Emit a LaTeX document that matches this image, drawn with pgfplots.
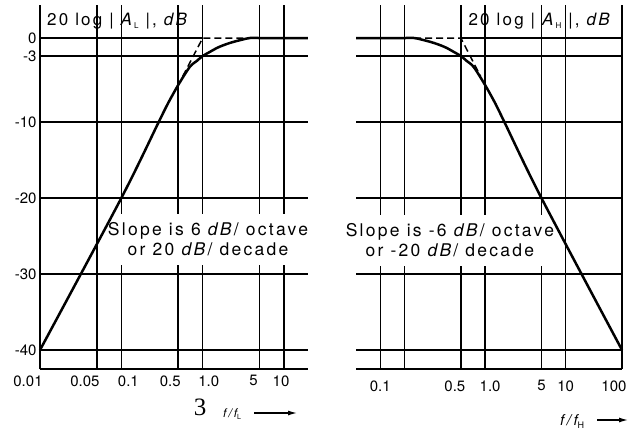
\documentclass[border=0pt]{standalone}
\usepackage{pgfplots}
\pgfplotsset{compat=1.18}
\usetikzlibrary{arrows.meta}
\usepackage{fontspec}
\setmainfont{TeX Gyre Heros}
\newfontfamily\spaced[LetterSpace=13]{TeX Gyre Heros}
\newfontfamily\serifnum{Liberation Serif}

\tikzset{slopebox/.style={fill=white, align=center, inner xsep=3pt, inner ysep=9pt,
    font=\spaced\fontsize{17.5}{19.5}\selectfont}}
% tick label moved sideways by #1 (the printed labels are not quite centred)
\newcommand{\shifted}[2]{\makebox[0pt][c]{\kern#1\kern#1#2}}

\begin{document}
\begin{tikzpicture}
\path[use as bounding box] (0,0) rectangle (632pt,-432pt);

% High-pass response, A_L
% (the printed dB scale is stretched unevenly: 0 to -3, -3 to -10 and -10 to -40 dB
%  each have their own spacing)
\begin{axis}[at={(40pt,-369pt)}, anchor=south west,
  scale only axis, width=268pt, height=364pt,
  y coord trafo/.code={\pgfmathparse{(#1)>=-3 ? 6*(#1) : ((#1)>=-10 ? -18+((#1)+3)*9.428571 : -84+((#1)+10)*7.6)}},
  y coord inv trafo/.code={\pgfmathparse{(#1)>=-18 ? (#1)/6 : ((#1)>=-84 ? -3+((#1)+18)/9.428571 : -10+((#1)+84)/7.6)}},
  xmode=log, xmin=0.01, xmax=19.7, ymin=-42.5, ymax=5.5,
  axis x line*=bottom, axis y line*=left,
  grid=major, major grid style={black, line width=1.5pt},
  major tick length=0pt, axis line style={black, line width=2.2pt},
  tick label style={font=\fontsize{15}{15}\selectfont},
  xticklabel style={yshift=-3pt},
  clip=false,
  xtick={0.01,0.05,0.1,0.5,1,5,10},
  xticklabels={\shifted{-12pt}{0.01},\shifted{-12pt}{0.05},\shifted{7pt}{0.1},
    \shifted{-8pt}{0.5},\shifted{6pt}{1.0},\shifted{-6pt}{5},\shifted{-3pt}{10}},
  ytick={-40,-30,-20,-10,-3},
  yticklabels={-40,-30,-20,-10,-3},
  extra y ticks={0}, extra y tick labels={0},
  extra tick style={grid=none}]
\node[slopebox] at (rel axis cs:0.627,0.357)
  {Slope is 6 \textit{dB}/ octave\\or 20 \textit{dB}/ decade};
\addplot[black, line width=1.5pt] coordinates {(0.01,0) (1,0)};
\addplot[black, line width=1.5pt, dash pattern=on 7pt off 4pt]
  coordinates {(0.568,-5.16) (1,0) (3.8,0)};
\addplot[black, line width=2.5pt, smooth, tension=0.5] coordinates {
  (0.01,-40) (0.1,-20) (0.288,-10) (0.371,-8.09) (0.5,-6.08) (0.692,-4.17)
  (0.844,-3.53) (1,-3) (1.22,-2.33) (1.49,-1.67) (1.76,-1.25) (2.15,-0.83)
  (2.62,-0.5) (3.1,-0.25) (3.8,0) (5,0) (19.7,0)};
\end{axis}

% Low-pass response, A_H
\begin{axis}[at={(356pt,-369pt)}, anchor=south west,
  scale only axis, width=266pt, height=364pt,
  y coord trafo/.code={\pgfmathparse{(#1)>=-3 ? 6*(#1) : ((#1)>=-10 ? -18+((#1)+3)*9.428571 : -84+((#1)+10)*7.6)}},
  y coord inv trafo/.code={\pgfmathparse{(#1)>=-18 ? (#1)/6 : ((#1)>=-84 ? -3+((#1)+18)/9.428571 : -10+((#1)+84)/7.6)}},
  xmode=log, xmin=0.05, xmax=100, ymin=-42.5, ymax=5.5,
  axis x line*=bottom, axis y line*=right,
  grid=major, major grid style={black, line width=1.5pt},
  major tick length=0pt, axis line style={black, line width=2.2pt},
  tick label style={font=\fontsize{15}{15}\selectfont},
  clip=false,
  xtick={0.1,0.2,1,2,10,20,100},
  xticklabels={0.1,,\shifted{-6pt}{0.5},\shifted{5pt}{1.0},5,10,\shifted{-8pt}{100}},
  xticklabel style={yshift=-8pt},
  ytick={-40,-30,-20,-10,-3},
  yticklabels={,,,,},
  extra y ticks={0}, extra y tick labels={},
  extra tick style={grid=none}]
\node[slopebox] at (rel axis cs:0.353,0.354)
  {Slope is -6 \textit{dB}/ octave\\or -20 \textit{dB}/ decade};
\addplot[black, line width=1.5pt] coordinates {(1,0) (100,0)};
\addplot[black, line width=1.5pt, dash pattern=on 7pt off 4pt]
  coordinates {(0.263,0) (1,0) (1.76,-5.16)};
\addplot[black, line width=2.5pt, smooth, tension=0.5] coordinates {
  (0.05,0) (0.2,0) (0.263,0) (0.323,-0.25) (0.382,-0.5) (0.465,-0.83)
  (0.568,-1.25) (0.671,-1.67) (0.82,-2.33) (1,-3) (1.185,-3.53) (1.445,-4.17)
  (2,-6.08) (2.7,-8.09) (3.47,-10) (10,-20) (100,-40)};
\end{axis}

% Panel headings
\node[anchor=base west, inner sep=0pt, font=\spaced\fontsize{17}{18}\selectfont]
  at (47pt,-25pt) {20 log | \textit{A}\raisebox{-3pt}{\fontsize{8}{8}\selectfont L} |, \textit{dB}};
\node[anchor=base east, inner sep=0pt, font=\spaced\fontsize{17}{18}\selectfont]
  at (612pt,-25pt) {20 log | \textit{A}\raisebox{-3pt}{\fontsize{8}{8}\selectfont H} |, \textit{dB}};

% Frequency axis captions
\node[anchor=base, inner sep=0pt, font=\serifnum\fontsize{25}{25}\selectfont]
  at (200pt,-415pt) {3};
\node[anchor=base west, inner sep=0pt, font=\itshape\fontsize{12}{12}\selectfont]
  at (223pt,-417pt) {f\,/\,f\raisebox{-2pt}{\upshape\fontsize{7}{7}\selectfont L}};
\draw[line width=1.2pt, -{Latex[length=9pt,width=5pt]}] (254pt,-413pt) -- (297pt,-413pt);
\node[anchor=base west, inner sep=0pt, font=\itshape\fontsize{15}{15}\selectfont]
  at (560pt,-425pt) {f\,/\,f\raisebox{-3pt}{\upshape\fontsize{9}{9}\selectfont H}};
\draw[line width=1.2pt, -{Latex[length=9pt,width=5pt]}] (597pt,-420pt) -- (628pt,-420pt);
\end{tikzpicture}
\end{document}
